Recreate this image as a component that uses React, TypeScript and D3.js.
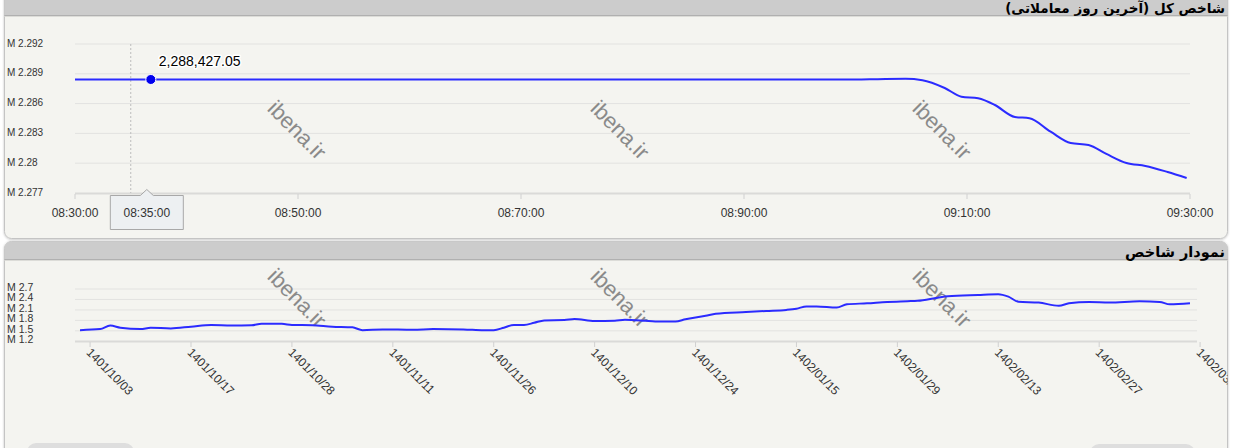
import React from "react";
import * as d3 from "d3";

// ---- Top chart: intraday total index (x = HHMM as number) ----
const topTimes = [830, 845, 859, 900, 902, 904.5, 906, 908, 909.5, 911, 912.5, 914.3, 915.6, 917.5, 919.3, 920.9, 922.5, 924.3, 926, 928, 929.7];
const topValues = [2.288427, 2.288427, 2.288427, 2.28843, 2.28846, 2.28849, 2.28835, 2.28757, 2.2867, 2.28653, 2.28586, 2.28465, 2.28453, 2.28317, 2.28203, 2.28183, 2.28093, 2.28002, 2.27972, 2.27911, 2.27851];
const topXTicks = [830, 850, 870, 890, 910, 930];
const topXTickLabels = ["08:30:00", "08:50:00", "08:70:00", "08:90:00", "09:10:00", "09:30:00"];
const topYTicks = [2.277, 2.28, 2.283, 2.286, 2.289, 2.292];
const hoverLineTime = 835;
const hoverPointTime = 836.8;
const hoverValue = 2.28842705;
const hoverValueLabel = "2,288,427.05";
const hoverTimeLabel = "08:35:00";

// ---- Bottom chart: daily index (x = trading day index) ----
const dayIndex = [0, 2, 3, 4, 6, 7, 9, 11, 13, 15, 17, 18, 20, 21, 23, 25, 27, 28, 30, 33, 35, 38, 40, 41, 42, 43, 44, 45, 46, 48, 49, 51, 53, 54, 56, 57, 59, 60, 62, 63, 66, 68, 70, 71, 72, 73, 75, 76, 78, 80, 82, 83, 85, 86, 89, 91, 92, 93, 95, 97, 98, 100, 102, 105, 107, 108, 110];
const dayValues = [1.52, 1.55, 1.65, 1.59, 1.55, 1.59, 1.57, 1.62, 1.67, 1.65, 1.66, 1.7, 1.7, 1.67, 1.66, 1.62, 1.6, 1.52, 1.54, 1.53, 1.55, 1.54, 1.515, 1.52, 1.59, 1.67, 1.67, 1.73, 1.8, 1.81, 1.84, 1.78, 1.79, 1.82, 1.79, 1.77, 1.77, 1.83, 1.93, 1.99, 2.04, 2.07, 2.1, 2.135, 2.2, 2.2, 2.17, 2.26, 2.29, 2.33, 2.35, 2.36, 2.45, 2.49, 2.53, 2.55, 2.48, 2.335, 2.31, 2.22, 2.29, 2.33, 2.31, 2.35, 2.33, 2.26, 2.29];
const dateTickIndex = [1, 11, 21, 31, 41, 51, 61, 71, 81, 91, 101, 111];
const dateTickLabels = ["1401/10/03", "1401/10/17", "1401/10/28", "1401/11/11", "1401/11/26", "1401/12/10", "1401/12/24", "1402/01/15", "1402/01/29", "1402/02/13", "1402/02/27", "1402/03/10"];
const bottomYTicks = [1.2, 1.5, 1.8, 2.1, 2.4, 2.7];

const topTitle = "شاخص کل (آخرین روز معاملاتی)";
const bottomTitle = "نمودار شاخص";
const watermark = "ibena.ir";

const LINE = "#2b2bff";
const FONT = "'Liberation Sans', Arial, sans-serif";
const PANEL_BG = "#f4f4f0";

export default function App() {
  const xTop = d3.scaleLinear().domain([830, 930]).range([75, 1190]);
  const yTop = d3.scaleLinear().domain([2.277, 2.292]).range([193, 44]);
  const topLine = d3
    .line<number>()
    .x((_, i) => xTop(topTimes[i]))
    .y((d) => yTop(d))
    .curve(d3.curveMonotoneX)(topValues) as string;

  const xBot = d3.scaleLinear().domain([0, 110]).range([80, 1190]);
  const yBot = d3.scaleLinear().domain([1.2, 2.7]).range([341.3, 289]);
  const botLine = d3
    .line<number>()
    .x((_, i) => xBot(dayIndex[i]))
    .y((d) => yBot(d))
    .curve(d3.curveMonotoneX)(dayValues) as string;

  const px = xTop(hoverPointTime);
  const py = yTop(hoverValue);
  const tipC = px - 4;

  const wmX = [297, 620, 942];

  return (
    <svg
      width={1234}
      height={448}
      style={{ position: "absolute", left: 0, top: 0, display: "block" }}
      fontFamily={FONT}
    >
      <defs>
        <clipPath id="topPanel">
          <rect x={4.5} y={-8} width={1223} height={246.5} rx={7} />
        </clipPath>
        <clipPath id="botPanel">
          <rect x={4.5} y={241.5} width={1223} height={240} rx={7} />
        </clipPath>
        <filter id="sh" x="-5%" y="-5%" width="110%" height="110%">
          <feDropShadow dx="0" dy="0.5" stdDeviation="1" floodColor="#000" floodOpacity="0.25" />
        </filter>
      </defs>
      <rect x={0} y={0} width={1234} height={448} fill="#fff" />

      {/* ---------- top panel ---------- */}
      <rect x={4.5} y={-8} width={1223} height={246.5} rx={7} fill={PANEL_BG} stroke="#c4c4c4" filter="url(#sh)" />
      <g clipPath="url(#topPanel)">
        <rect x={0} y={-8} width={1234} height={23} fill="#cccccc" />
        <line x1={0} x2={1234} y1={15.5} y2={15.5} stroke="#b0b0b0" />
        <line x1={0} x2={1234} y1={16.5} y2={16.5} stroke="#dcdcd8" />
      </g>
      <text x={1225} y={13} textAnchor="start" direction="rtl" fontFamily="'DejaVu Sans', sans-serif" fontSize={13.5} fontWeight="bold" fill="#000">
        {topTitle}
      </text>

      {topYTicks.map((t, i) => (
        <g key={"tg" + i}>
          {i > 0 && (
            <line x1={75} x2={1190} y1={yTop(t)} y2={yTop(t)} stroke="#e2e2e0" strokeWidth={1} />
          )}
          <text x={7} y={yTop(t) - 1} dominantBaseline="central" fontSize={10} fill="#333">
            {"M " + t}
          </text>
        </g>
      ))}
      <line x1={75} x2={1190} y1={193.5} y2={193.5} stroke="#dadad8" strokeWidth={2} />
      {topXTicks.map((t, i) => (
        <g key={"tx" + i}>
          <line x1={xTop(t)} x2={xTop(t)} y1={194} y2={199} stroke="#d0d0d0" />
          <text x={xTop(t)} y={217} textAnchor="middle" fontSize={12} fill="#333">
            {topXTickLabels[i]}
          </text>
        </g>
      ))}

      {wmX.map((x, i) => (
        <text key={"wt" + i} transform={`translate(${x},130) rotate(45)`} textAnchor="middle" dominantBaseline="central" fontSize={22} fill="#8a8a8a">
          {watermark}
        </text>
      ))}

      <line x1={xTop(hoverLineTime)} x2={xTop(hoverLineTime)} y1={44} y2={193} stroke="#bdbdbd" strokeDasharray="2,2" />
      <path d={topLine} fill="none" stroke={LINE} strokeWidth={2} />
      <circle cx={px} cy={py} r={5} fill="#0000ee" stroke="#fff" strokeWidth={1} />
      <text x={px + 8} y={py - 13} fontSize={14} fill="#000" stroke="#fff" strokeWidth={3} paintOrder="stroke" strokeLinejoin="round">
        {hoverValueLabel}
      </text>
      <path
        d={`M${tipC - 36.5},195.5 H${tipC - 6.5} L${tipC},189.5 L${tipC + 6.5},195.5 H${tipC + 36.5} V229.5 H${tipC - 36.5} Z`}
        fill="#edf0f2"
        stroke="#a8a8a8"
      />
      <text x={tipC} y={217} textAnchor="middle" fontSize={12} fill="#333">
        {hoverTimeLabel}
      </text>

      {/* ---------- bottom panel ---------- */}
      <rect x={4.5} y={241.5} width={1223} height={240} rx={7} fill={PANEL_BG} stroke="#c4c4c4" filter="url(#sh)" />
      <g clipPath="url(#botPanel)">
        <rect x={0} y={241} width={1234} height={18} fill="#cccccc" />
        <line x1={0} x2={1234} y1={259.5} y2={259.5} stroke="#b0b0b0" />
        <line x1={0} x2={1234} y1={260.5} y2={260.5} stroke="#dcdcd8" />
        <rect x={27} y={443} width={107} height={30} rx={9} fill="#dedede" />
        <rect x={1090} y={444} width={105} height={30} rx={9} fill="#dedede" />
      </g>
      <text x={1225} y={257} textAnchor="start" direction="rtl" fontFamily="'DejaVu Sans', sans-serif" fontSize={14.5} fontWeight="bold" fill="#000">
        {bottomTitle}
      </text>

      {bottomYTicks.map((t, i) => (
        <g key={"bg" + i}>
          {i > 0 && (
            <line x1={75} x2={1197} y1={yBot(t)} y2={yBot(t)} stroke="#e2e2e0" strokeWidth={1} />
          )}
          <text x={7} y={yBot(t) - 2} dominantBaseline="central" fontSize={10.5} fill="#333">
            {"M " + t}
          </text>
        </g>
      ))}
      <line x1={75} x2={1197} y1={341.5} y2={341.5} stroke="#dadad8" strokeWidth={2} />
      <g clipPath="url(#botPanel)">
        {dateTickIndex.map((t, i) => (
          <g key={"bx" + i}>
            <line x1={xBot(t)} x2={xBot(t)} y1={342} y2={347} stroke="#d0d0d0" />
            <text transform={`translate(${xBot(t) + 2},347) rotate(45)`} dy="0.75em" fontSize={12} fill="#333">
              {dateTickLabels[i]}
            </text>
          </g>
        ))}
      </g>

      {wmX.map((x, i) => (
        <text key={"wb" + i} transform={`translate(${x},298) rotate(45)`} textAnchor="middle" dominantBaseline="central" fontSize={22} fill="#8a8a8a">
          {watermark}
        </text>
      ))}
      <path d={botLine} fill="none" stroke={LINE} strokeWidth={2} />
    </svg>
  );
}
